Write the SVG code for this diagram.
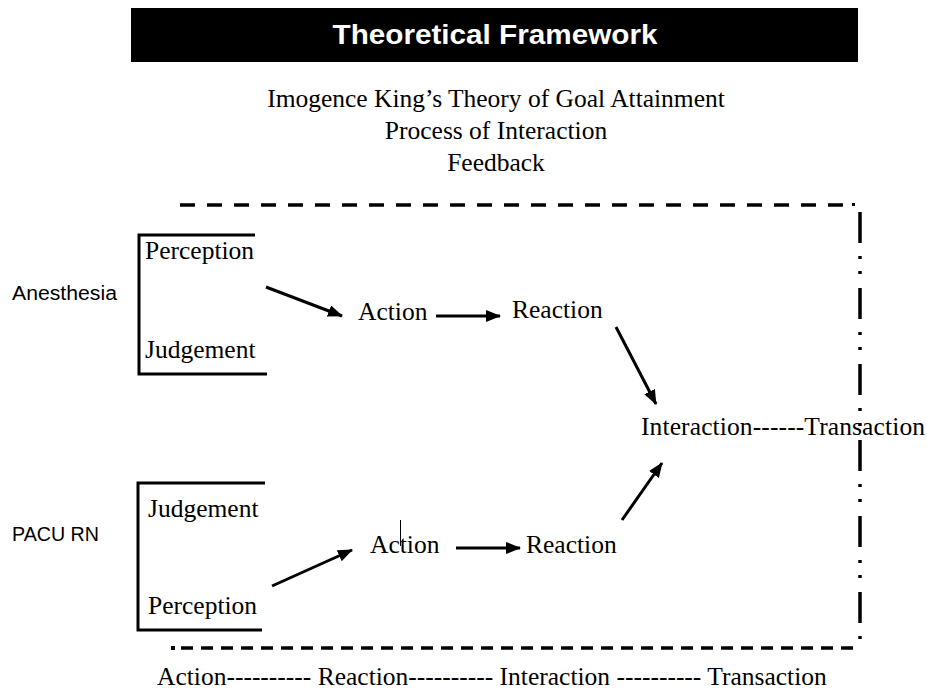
<svg xmlns="http://www.w3.org/2000/svg" width="927" height="692" viewBox="0 0 927 692">
<style>
.s{font-family:"Liberation Serif","Times New Roman",serif;font-size:25.5px;fill:#000}
.l{font-family:"Liberation Sans",Arial,sans-serif;font-size:19.5px;fill:#000}
.ln{stroke:#000;stroke-width:3;fill:none}
.ar{stroke:#000;stroke-width:3;fill:none;marker-end:url(#ah)}
</style>
<defs>
<marker id="ah" markerUnits="userSpaceOnUse" markerWidth="16" markerHeight="14" refX="14" refY="6" orient="auto">
<path d="M0,0 L15,6 L0,12 z" fill="#000"/>
</marker>
</defs>
<rect width="927" height="692" fill="#fff"/>
<g id="title">
<rect x="131" y="8" width="727" height="54" fill="#000"/>
<text x="495" y="44" text-anchor="middle" font-family="Liberation Sans,Arial,sans-serif" font-weight="bold" font-size="27" fill="#fff" textLength="325" lengthAdjust="spacingAndGlyphs">Theoretical Framework</text>
</g>
<g id="subtitle">
<text class="s" x="496" y="107" text-anchor="middle">Imogence King’s Theory of Goal Attainment</text>
<text class="s" x="496" y="139" text-anchor="middle">Process of Interaction</text>
<text class="s" x="496" y="171" text-anchor="middle">Feedback</text>
</g>
<g id="frame">
<line x1="180" y1="205" x2="850" y2="205" stroke="#000" stroke-width="3.5" stroke-dasharray="15 12"/>
<rect x="852" y="203" width="3" height="3" fill="#000"/>
<line x1="860" y1="212" x2="860" y2="640" stroke="#000" stroke-width="3.5" stroke-dasharray="31 13 3 12 3 14"/>
<rect x="171" y="646" width="4" height="4" fill="#000"/>
<line x1="181" y1="648" x2="856" y2="648" stroke="#000" stroke-width="3.5" stroke-dasharray="12 8"/>
</g>
<g id="anesthesia">
<text class="l" x="12" y="300" textLength="105" lengthAdjust="spacingAndGlyphs">Anesthesia</text>
<polyline class="ln" points="255,235 139,235 139,374 267,374"/>
<text class="s" x="145" y="259">Perception</text>
<text class="s" x="145" y="358">Judgement</text>
</g>
<g id="pacu">
<text class="l" x="12" y="541" textLength="87" lengthAdjust="spacingAndGlyphs">PACU RN</text>
<polyline class="ln" points="265,483 138,483 138,630 262,630"/>
<text class="s" x="148" y="517">Judgement</text>
<text class="s" x="148" y="614">Perception</text>
</g>
<g id="action1"><text class="s" x="358" y="320">Action</text></g>
<g id="reaction1"><text class="s" x="512" y="318">Reaction</text></g>
<g id="interaction"><text class="s" x="641" y="435" textLength="284" lengthAdjust="spacing">Interaction------Transaction</text></g>
<g id="action2"><text class="s" x="370" y="553">Action</text><line x1="400.5" y1="520" x2="400.5" y2="546" stroke="#000" stroke-width="1"/></g>
<g id="reaction2"><text class="s" x="526" y="553">Reaction</text></g>
<g id="footer"><text class="s" x="157" y="685">Action---------- Reaction---------- Interaction ---------- Transaction</text></g>
<g id="connectors">
<line class="ar" x1="266" y1="287" x2="342" y2="316"/>
<line class="ar" x1="436" y1="316" x2="500" y2="316"/>
<line class="ar" x1="616" y1="327" x2="656" y2="404"/>
<line class="ar" x1="272" y1="586" x2="352" y2="550"/>
<line class="ar" x1="456" y1="548" x2="520" y2="548"/>
<line class="ar" x1="622" y1="520" x2="662" y2="463"/>
</g>
</svg>
